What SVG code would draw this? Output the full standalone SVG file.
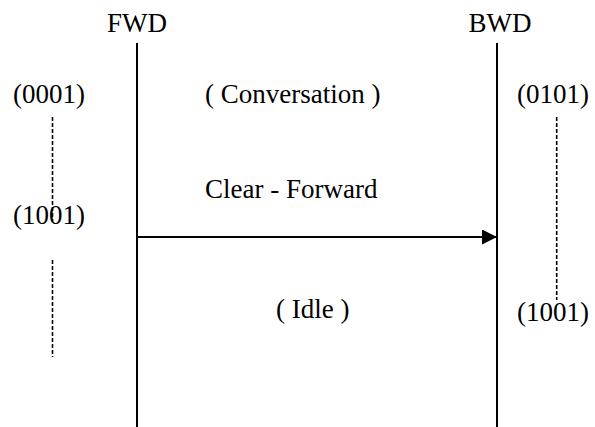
<svg xmlns="http://www.w3.org/2000/svg" width="595" height="427" viewBox="0 0 595 427">
  <style>
    .lbl { font-family: "Liberation Serif", serif; font-size: 27px; fill: #000; }
    .life { stroke: #000; stroke-width: 2; fill: none; }
    .dash { stroke: #000; stroke-width: 1.6; stroke-dasharray: 4 2; fill: none; }
    .msg { stroke: #000; stroke-width: 2; fill: none; }
  </style>
  <defs>
    <marker id="head" markerWidth="16" markerHeight="16" refX="15" refY="7.5" markerUnits="userSpaceOnUse" orient="auto">
      <path d="M0,0 L15,7.5 L0,15 Z" fill="#000"/>
    </marker>
  </defs>
  <rect width="595" height="427" fill="#fff"/>

  <!-- lifelines -->
  <g id="fwd">
    <text class="lbl" font-family="Liberation Serif" x="137" y="32" text-anchor="middle">FWD</text>
    <line class="life" x1="137" y1="43" x2="137" y2="427"/>
  </g>
  <g id="bwd">
    <text class="lbl" font-family="Liberation Serif" x="500" y="32" text-anchor="middle">BWD</text>
    <line class="life" x1="497" y1="43" x2="497" y2="427"/>
  </g>

  <!-- state codes on the forward side -->
  <g id="fwd-states">
    <text class="lbl" font-family="Liberation Serif" x="13" y="103">(0001)</text>
    <line class="dash" x1="52.5" y1="117" x2="52.5" y2="222"/>
    <text class="lbl" font-family="Liberation Serif" x="13" y="224">(1001)</text>
    <line class="dash" x1="52.5" y1="260" x2="52.5" y2="357"/>
  </g>

  <!-- state codes on the backward side -->
  <g id="bwd-states">
    <text class="lbl" font-family="Liberation Serif" x="517" y="103">(0101)</text>
    <line class="dash" x1="556.7" y1="117" x2="556.7" y2="300"/>
    <text class="lbl" font-family="Liberation Serif" x="517" y="321">(1001)</text>
  </g>

  <!-- phase labels -->
  <g id="conversation">
    <text class="lbl" font-family="Liberation Serif" x="205" y="103">( Conversation )</text>
  </g>
  <g id="idle">
    <text class="lbl" font-family="Liberation Serif" x="276" y="318">( Idle )</text>
  </g>

  <!-- signals -->
  <g id="connectors">
    <text class="lbl" font-family="Liberation Serif" x="205" y="198">Clear - Forward</text>
    <line class="msg" x1="137" y1="237" x2="497" y2="237" marker-end="url(#head)"/>
  </g>
</svg>
